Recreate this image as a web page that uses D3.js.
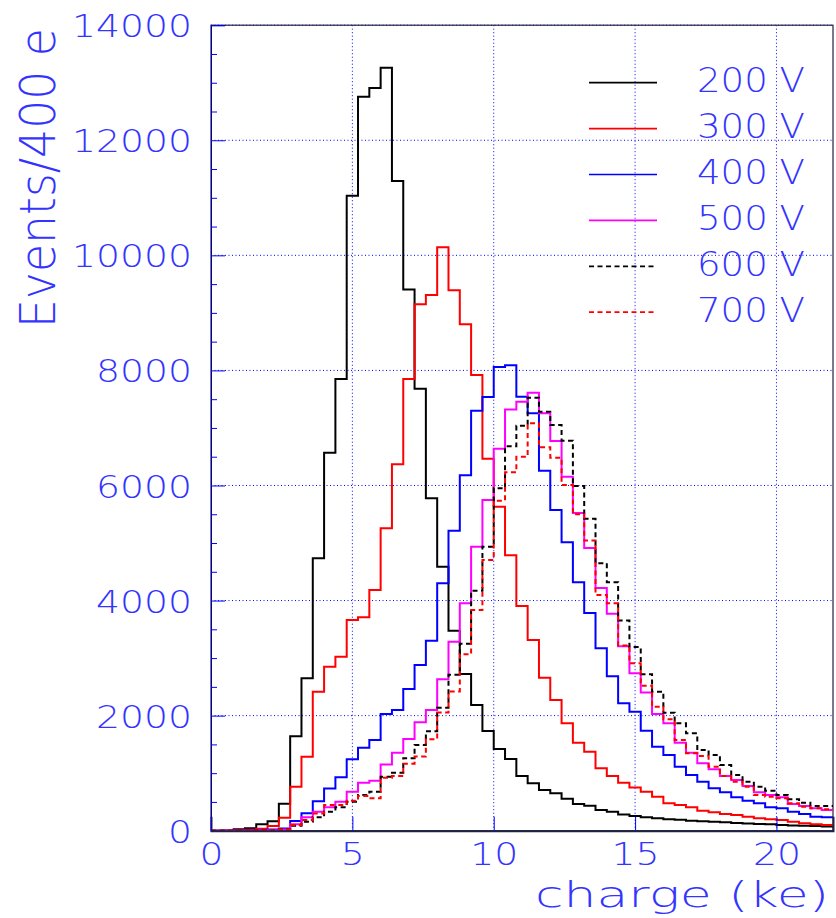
<!DOCTYPE html>
<html>
<head>
<meta charset="utf-8">
<script src="https://cdn.jsdelivr.net/npm/d3@7"></script>
<style>
  html, body { margin: 0; padding: 0; background: #fff; }
  svg { display: block; }
  text { font-family: "DejaVu Sans", "Liberation Sans", sans-serif; font-weight: 200; fill: #3434ff; }
</style>
</head>
<body>
<svg id="chart" width="836" height="918"></svg>
<script>
// ---------- data (bin width 0.4 ke, bins start at 0) ----------
const binWidth = 0.4;
const v200 = [0,5,24,41,110,165,470,1640,2649,4734,6570,7851,11036,12757,12908,13261,11292,9405,7682,5777,4588,3476,2723,2185,1733,1420,1246,951,824,707,650,556,464,435,360,330,280,255,235,215,200,190,175,165,155,145,135,125,118,110,100,92,85,80,75];
const v300 = [0,0,5,15,35,82,226,765,1286,2416,2850,3024,3662,3709,4183,5256,6368,7851,9149,9311,10139,9395,8801,7920,6466,5631,4786,3905,3314,2660,2272,1866,1529,1373,1084,951,834,750,678,591,476,447,406,348,320,290,273,243,215,198,186,157,128,110,99];
const v400 = [0,0,0,5,10,20,40,170,302,510,733,928,1243,1440,1576,2028,2098,2463,2880,3302,4300,5214,6176,7298,7538,8060,8090,7543,7254,6257,5574,5015,4320,3785,3170,2683,2214,2068,1738,1460,1316,1112,968,852,737,667,580,521,476,406,389,330,290,243,233];
const v500 = [0,0,0,0,5,10,20,110,232,331,406,504,678,834,869,1150,1356,1595,1884,2098,2631,3285,3952,4936,5748,6640,7320,7456,7612,7254,6773,6153,5520,4915,4220,3770,3205,2735,2402,2028,1866,1529,1356,1171,1067,951,881,777,667,620,580,464,429,389,360];
const v600 = [0,0,0,0,5,10,20,85,157,232,331,406,504,620,678,938,1008,1258,1489,1730,2135,2712,3250,4171,4936,5951,6680,7040,7526,7283,7051,6779,5991,5424,4647,4320,3652,3192,2720,2416,2051,1866,1693,1403,1316,1142,968,852,765,695,620,546,487,429,429];
const v700 = [0,0,0,0,5,10,20,100,186,300,447,447,522,603,563,920,951,1165,1290,1590,2055,2420,3066,3836,4705,5736,6230,6500,7080,6663,6483,6008,5499,5045,4097,3952,3220,2909,2520,2155,1936,1576,1345,1298,1112,951,852,765,620,591,563,476,417,389,372];

const seriesNames = ["200 V","300 V","400 V","500 V","600 V","700 V"];
const seriesColors = ["#000000","#ff0000","#0000ff","#ff00ff","#000000","#ff0000"];
const seriesDashed = [false,false,false,false,true,true];
const seriesValues = [v200, v300, v400, v500, v600, v700];

const xTicks = [0,5,10,15,20];
const yTicks = [0,2000,4000,6000,8000,10000,12000,14000];
const xTitle = "charge (ke)";
const yTitle = "Events/400 e";

// ---------- layout ----------
const svg = d3.select("#chart");
const L = 211, R = 833, T = 25.2, B = 830.7;
const x = d3.scaleLinear().domain([0, 22]).range([L, R]);
const y = d3.scaleLinear().domain([0, 14000]).range([B, T]);

// grid
const grid = svg.append("g");
grid.selectAll("line.gx").data(xTicks.filter(d => d > 0)).join("line")
  .attr("x1", d => x(d)).attr("x2", d => x(d)).attr("y1", T).attr("y2", B)
  .attr("stroke", "#0000ff").attr("stroke-width", 1).attr("stroke-dasharray", "1,2.5");
grid.selectAll("line.gy").data(yTicks.filter(d => d > 0)).join("line")
  .attr("x1", L).attr("x2", R).attr("y1", d => y(d)).attr("y2", d => y(d))
  .attr("stroke", "#0000ff").attr("stroke-width", 1).attr("stroke-dasharray", "1,2.5");

// frame
svg.append("rect").attr("x", L).attr("y", T).attr("width", R - L).attr("height", B - T)
  .attr("fill", "none").attr("stroke", "#222244").attr("stroke-width", 1.2);

// histograms
const line = d3.line().x(d => x(d[0])).y(d => y(d[1])).curve(d3.curveStepAfter);
seriesValues.forEach((vals, k) => {
  const pts = vals.map((v, i) => [i * binWidth, v]);
  pts.push([vals.length * binWidth, vals[vals.length - 1]]);
  svg.append("path").attr("d", line(pts))
    .attr("fill", "none").attr("stroke", seriesColors[k]).attr("stroke-width", 2)
    .attr("stroke-dasharray", seriesDashed[k] ? "5,3.5" : null)
    .attr("stroke-linejoin", "miter");
});

// y axis
const yAxis = d3.axisLeft(y).tickValues(yTicks).tickSize(-14).tickPadding(19).tickFormat(d3.format("d"));
const gy = svg.append("g").attr("transform", `translate(${L},0)`).call(yAxis);
gy.select(".domain").attr("stroke", "#0000aa");
gy.selectAll(".tick line").attr("stroke", "#0000ff");
gy.selectAll(".tick text").attr("font-size", 32).attr("dy", "0.36em")
  .attr("font-family", null).style("fill", "#3434ff")
  .each(function(d) {
    const n = String(d).length;
    d3.select(this).attr("textLength", n * 24).attr("lengthAdjust", "spacingAndGlyphs");
  });
const yMinor = d3.axisLeft(y).tickValues(d3.range(500, 14000, 500).filter(v => v % 2000 !== 0)).tickSize(-6).tickFormat("");
const gym = svg.append("g").attr("transform", `translate(${L},0)`).call(yMinor);
gym.select(".domain").remove();
gym.selectAll(".tick line").attr("stroke", "#0000ff");

// x axis
const xAxis = d3.axisBottom(x).tickValues(xTicks).tickSize(-14).tickPadding(11).tickFormat(d3.format("d"));
const gx = svg.append("g").attr("transform", `translate(0,${B})`).call(xAxis);
gx.select(".domain").attr("stroke", "#222244").attr("stroke-width", 2);
gx.selectAll(".tick line").attr("stroke", "#0000ff");
gx.selectAll(".tick text").attr("font-size", 32).attr("dy", "0.72em")
  .attr("font-family", null).style("fill", "#3434ff")
  .each(function(d) {
    const n = String(d).length;
    d3.select(this).attr("textLength", n * 24).attr("lengthAdjust", "spacingAndGlyphs");
  });

// axis titles
svg.append("text").attr("x", 829).attr("y", 907).attr("text-anchor", "end")
  .attr("font-size", 36).attr("textLength", 294).attr("lengthAdjust", "spacingAndGlyphs")
  .text(xTitle);
svg.append("text").attr("transform", "translate(55,328) rotate(-90)").attr("text-anchor", "start")
  .attr("font-size", 49).attr("textLength", 300).attr("lengthAdjust", "spacingAndGlyphs")
  .text(yTitle);

// legend
const legY0 = 82.7, legStep = 45.9;
const leg = svg.append("g");
seriesNames.forEach((name, k) => {
  const yy = legY0 + k * legStep;
  leg.append("line").attr("x1", 589).attr("x2", 657).attr("y1", yy).attr("y2", yy)
    .attr("stroke", seriesColors[k]).attr("stroke-width", 1.7)
    .attr("stroke-dasharray", seriesDashed[k] ? "5,3.5" : null);
  leg.append("text").attr("x", 697).attr("y", yy + 9.6).attr("font-size", 33)
    .attr("textLength", 108).attr("lengthAdjust", "spacingAndGlyphs")
    .text(name);
});
</script>
</body>
</html>
